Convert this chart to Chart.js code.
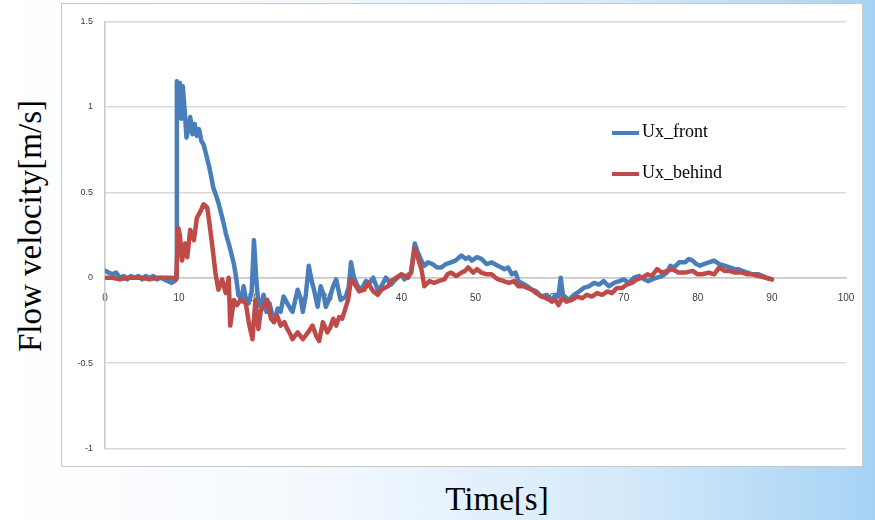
<!DOCTYPE html>
<html>
<head>
<meta charset="utf-8">
<script src="https://cdn.jsdelivr.net/npm/chart.js@4"></script>
<style>
  html, body { margin: 0; padding: 0; }
  body {
    width: 875px; height: 520px; position: relative; overflow: hidden;
    background: linear-gradient(to right, #ffffff 0%, #f4f9fe 35%, #d6eafa 70%, #a6d3f5 100%);
  }
  #box {
    position: absolute; left: 61px; top: 3px; width: 800px; height: 462px;
    background: #ffffff; border: 1px solid #c8c8c8;
  }
  #box canvas { position: absolute; left: 0; top: 0; }
  .title { position: absolute; font-family: "Liberation Serif", "Times New Roman", serif; color: #000; white-space: nowrap; }
  #ytitle { left: 30px; top: 226px; font-size: 33px; transform: translate(-50%, -50%) rotate(-90deg); }
  #xtitle { left: 497px; top: 499px; font-size: 33px; transform: translate(-50%, -50%); }
  .legend { position: absolute; font-family: "Liberation Serif", "Times New Roman", serif; font-size: 18px; color: #000; }
  .legend span.swatch { display: inline-block; width: 27px; height: 4px; vertical-align: middle; margin-right: 3px; }
</style>
</head>
<body>
<div id="box"><canvas id="flowChart" width="800" height="462"></canvas></div>
<div class="title" id="ytitle">Flow velocity[m/s]</div>
<div class="title" id="xtitle">Time[s]</div>
<div class="legend" style="left:612px; top:121px;"><span class="swatch" style="background:#4a7ebb"></span>Ux_front</div>
<div class="legend" style="left:612px; top:162px;"><span class="swatch" style="background:#be4b48"></span>Ux_behind</div>
<script>
// time [s] and velocity [m/s]
const frontTime = [0, 0.5, 1, 1.5, 2, 2.5, 3, 3.5, 4, 4.5, 5, 5.5, 6, 6.5, 7, 7.5, 8, 8.5, 9, 9.4, 9.6,
  9.7, 9.9, 10.1, 10.3, 10.5, 10.8, 11.0, 11.3, 11.5, 11.8, 12.1, 12.4, 12.7, 13.0, 13.3, 13.6, 14.0, 14.3,
  14.6, 15.0, 15.3, 15.6, 16.0, 16.3, 16.7, 17.0, 17.4, 17.7, 18.0, 18.4, 18.7, 19.0, 19.4, 19.8, 20.1,
  20.4, 20.7, 21.0, 21.4, 21.8, 22.2, 22.8, 23.3, 23.7, 24.1, 24.6, 25.0, 25.3, 26.0, 26.4, 26.7, 27.1,
  27.5, 27.9, 28.2, 28.7, 29.1, 29.5, 29.8, 30.3, 30.8, 31.2, 31.8, 32.5, 32.9, 33.2, 33.6, 34.1, 34.6,
  35.2, 35.7, 36.2, 36.8, 37.3, 37.9, 38.6, 39.0, 39.5, 40.0, 40.4, 41.0, 41.3, 41.8, 42.2, 42.7, 43.1,
  43.6, 44.2, 44.8, 45.4, 46.0, 46.7, 47.3, 48.1, 48.7, 49.1, 49.5, 50.2, 50.8, 51.5, 52.2, 53.0, 53.5,
  53.9, 54.4, 54.9, 55.4, 55.8, 56.2, 57.0, 57.6, 58.2, 58.9, 59.6, 60.3, 60.8, 61.2, 61.5, 61.8, 62.3,
  62.6, 63.3, 64.0, 64.6, 65.3, 66.0, 66.7, 67.3, 68.0, 68.7, 69.4, 70.0, 70.7, 71.4, 72.1, 72.8, 73.3,
  73.8, 74.5, 75.2, 75.8, 76.3, 76.8, 77.5, 78.3, 78.8, 79.3, 79.8, 80.3, 80.8, 81.5, 82.2, 82.9, 83.6,
  84.3, 85.0, 85.5, 86.0, 86.7, 87.4, 88.2, 88.8, 89.2, 90];
const frontVel = [0.04, 0.03, 0.02, 0.03, 0.0, 0.01, -0.01, 0.01, 0.0, 0.01, -0.01, 0.01, 0.0, 0.01, -0.01, 0.0, -0.01, -0.02, -0.03, -0.02, 0.0,
  1.15, 1.0, 1.14, 0.93, 1.12, 0.95, 0.82, 0.88, 0.94, 0.84, 0.9, 0.83, 0.87, 0.8, 0.78, 0.73, 0.66, 0.6,
  0.53, 0.48, 0.44, 0.39, 0.32, 0.26, 0.2, 0.15, 0.08, 0.0, -0.1, -0.13, -0.05, -0.12, -0.15, -0.08, 0.22,
  0.0, -0.15, -0.17, -0.1, -0.2, -0.15, -0.26, -0.18, -0.2, -0.11, -0.15, -0.18, -0.2, -0.07, -0.12, -0.2, -0.1,
  0.07, -0.02, -0.07, -0.17, -0.05, -0.1, -0.17, -0.12, -0.05, -0.01, -0.13, -0.11, -0.05, 0.09, 0.0, -0.05, -0.07,
  -0.02, -0.03, 0.0, -0.07, -0.05, 0.0, -0.04, -0.02, 0.0, 0.02, -0.01, 0.02, 0.03, 0.2, 0.15, 0.1, 0.07,
  0.09, 0.08, 0.06, 0.06, 0.08, 0.09, 0.1, 0.13, 0.11, 0.12, 0.1, 0.12, 0.11, 0.08, 0.09, 0.07, 0.06,
  0.05, 0.06, 0.02, 0.03, -0.02, -0.03, -0.05, -0.07, -0.08, -0.11, -0.1, -0.13, -0.1, -0.11, 0.0, -0.1, -0.12,
  -0.13, -0.1, -0.08, -0.06, -0.05, -0.03, -0.04, -0.02, -0.05, -0.03, -0.02, -0.01, -0.03, 0.0, 0.01, -0.01, -0.02,
  -0.01, 0.0, 0.01, 0.03, 0.07, 0.06, 0.09, 0.09, 0.11, 0.1, 0.08, 0.07, 0.08, 0.09, 0.1, 0.08, 0.07,
  0.06, 0.05, 0.05, 0.04, 0.03, 0.02, 0.02, 0.01, 0.0, -0.01];

const behindTime = [0, 1, 2, 3, 4, 5, 6, 7, 8, 9, 9.6, 9.9, 10.1, 10.4, 10.8, 11.1, 11.5, 12.0, 12.4,
  12.9, 13.3, 13.8, 14.0, 14.5, 14.9, 15.3, 15.8, 16.3, 16.7, 16.9, 17.4, 17.8, 18.3, 19.0, 19.4, 19.9,
  20.3, 20.7, 21.0, 21.3, 21.9, 22.4, 22.8, 23.2, 23.7, 24.2, 24.6, 25.0, 25.3, 26.0, 26.7, 27.4, 28.0,
  28.5, 28.9, 29.4, 30.0, 30.4, 30.8, 31.2, 31.6, 32.0, 32.3, 32.8, 33.2, 33.6, 34.3, 35.0, 35.5, 36.2,
  36.8, 37.3, 37.7, 38.2, 38.6, 39.3, 40.0, 40.5, 40.9, 41.3, 41.8, 42.2, 42.7, 43.1, 43.8, 44.4, 45.0,
  45.8, 46.2, 46.7, 47.4, 48.1, 48.6, 49.0, 49.7, 50.2, 50.8, 51.5, 52.2, 52.7, 53.1, 53.8, 54.5, 55.2,
  55.8, 56.5, 57.0, 57.6, 58.2, 58.9, 59.6, 60.3, 60.8, 61.2, 61.7, 62.3, 63.0, 63.7, 64.4, 65.0, 65.7,
  66.4, 67.1, 67.8, 68.4, 69.1, 69.8, 70.4, 71.1, 71.8, 72.5, 73.2, 73.8, 74.5, 75.2, 75.9, 76.6, 77.4,
  78.3, 79.3, 80.0, 80.6, 81.5, 82.2, 82.9, 83.6, 84.3, 85.0, 86.0, 86.7, 87.4, 88.2, 89.2, 90];
const behindVel = [0.0, 0.0, -0.01, 0.0, 0.0, 0.0, -0.01, 0.0, 0.0, 0.0, -0.01, 0.29, 0.25, 0.1, 0.2, 0.12, 0.28, 0.22, 0.35,
  0.39, 0.43, 0.41, 0.35, 0.18, 0.03, -0.07, -0.01, -0.09, 0.0, -0.28, -0.13, -0.16, -0.13, -0.15, -0.26, -0.36,
  -0.13, -0.3, -0.2, -0.17, -0.13, -0.24, -0.26, -0.22, -0.28, -0.26, -0.3, -0.33, -0.36, -0.32, -0.36, -0.32, -0.28,
  -0.34, -0.37, -0.26, -0.32, -0.29, -0.24, -0.28, -0.23, -0.24, -0.2, -0.13, -0.01, -0.03, -0.08, -0.07, -0.03, -0.08,
  -0.1, -0.07, -0.06, -0.05, -0.02, 0.0, 0.02, 0.01, 0.0, 0.03, 0.17, 0.12, 0.05, -0.05, -0.02, -0.03, -0.02,
  -0.01, 0.02, 0.03, 0.01, 0.03, 0.04, 0.06, 0.03, 0.05, 0.03, 0.02, 0.02, 0.0, -0.01, -0.02, -0.03, -0.02,
  -0.05, -0.05, -0.06, -0.07, -0.09, -0.11, -0.12, -0.14, -0.13, -0.16, -0.12, -0.14, -0.13, -0.11, -0.12, -0.1, -0.11,
  -0.09, -0.1, -0.08, -0.09, -0.06, -0.06, -0.04, -0.03, -0.01, 0.0, 0.02, 0.01, 0.05, 0.03, 0.04, 0.05, 0.03,
  0.03, 0.04, 0.02, 0.02, 0.03, 0.02, 0.06, 0.04, 0.04, 0.03, 0.03, 0.02, 0.02, 0.01, 0.0, -0.01];

const xTicks = [0, 10, 20, 30, 40, 50, 60, 70, 80, 90, 100];
const yTicks = [-1, -0.5, 0, 0.5, 1, 1.5];

function toPoints(xs, ys) {
  return xs.map((x, i) => ({ x: x, y: ys[i] }));
}

const ctx = document.getElementById("flowChart");

const chart = new Chart(ctx, {
  type: "line",
  data: {
    datasets: [
      {
        label: "Ux_front",
        data: toPoints(frontTime, frontVel),
        borderColor: "#4a7ebb",
        borderWidth: 4.5,
        pointRadius: 0,
        tension: 0,
        borderJoinStyle: "round",
        borderCapStyle: "round",
        order: 2,
      },
      {
        label: "Ux_behind",
        data: toPoints(behindTime, behindVel),
        borderColor: "#be4b48",
        borderWidth: 4.5,
        pointRadius: 0,
        tension: 0,
        borderJoinStyle: "round",
        borderCapStyle: "round",
        order: 1,
      },
    ],
  },
  options: {
    responsive: false,
    animation: false,
    layout: { padding: { left: 0, top: 14, right: 16, bottom: 13 } },
    plugins: { legend: { display: false }, tooltip: { enabled: false } },
    scales: {
      x: {
        type: "linear",
        position: { y: 0 },
        min: 0,
        max: 100,
        afterBuildTicks: (scale) => { scale.ticks = xTicks.map((v) => ({ value: v })); },
        grid: { display: false },
        border: { display: true, color: "#c8c8c8", width: 1.5 },
        ticks: {
          padding: 7,
          color: "#404040",
          font: { family: "'Liberation Sans', Arial, sans-serif", size: 10 },
          maxRotation: 0,
          callback: (v) => String(v),
        },
      },
      y: {
        min: -1,
        max: 1.5,
        afterBuildTicks: (scale) => { scale.ticks = yTicks.map((v) => ({ value: v })); },
        afterFit: (scale) => { scale.width = 43; },
        grid: { color: "#d9d9d9", lineWidth: 1.5, drawTicks: false },
        border: { display: true, color: "#c8c8c8", width: 1.5 },
        ticks: {
          padding: 12,
          color: "#404040",
          font: { family: "'Liberation Sans', Arial, sans-serif", size: 9 },
          callback: (v) => String(v),
        },
      },
    },
  },
});
</script>
</body>
</html>
